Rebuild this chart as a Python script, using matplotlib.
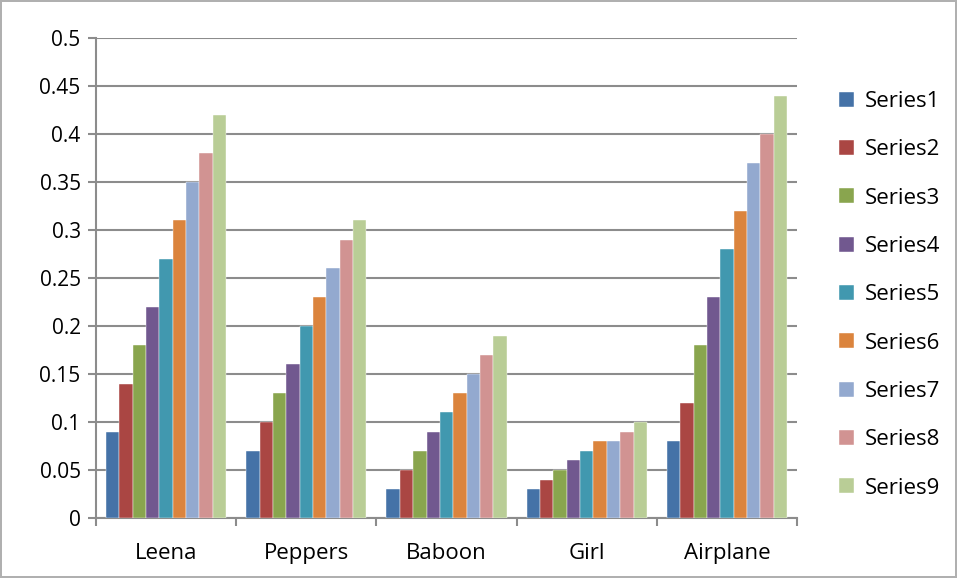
import matplotlib.pyplot as plt
import numpy as np

categories = ['Leena', 'Peppers', 'Baboon', 'Girl', 'Airplane']
series_names = ['Series%d' % i for i in range(1, 10)]
values = [
    [0.09, 0.07, 0.03, 0.03, 0.08],
    [0.14, 0.10, 0.05, 0.04, 0.12],
    [0.18, 0.13, 0.07, 0.05, 0.18],
    [0.22, 0.16, 0.09, 0.06, 0.23],
    [0.27, 0.20, 0.11, 0.07, 0.28],
    [0.31, 0.23, 0.13, 0.08, 0.32],
    [0.35, 0.26, 0.15, 0.08, 0.37],
    [0.38, 0.29, 0.17, 0.09, 0.40],
    [0.42, 0.31, 0.19, 0.10, 0.44],
]
colors = ['#4572A7', '#AA4643', '#89A54E', '#71588F', '#4198AF',
          '#DB843D', '#93A9CF', '#D19392', '#B9CD96']

plt.rcParams['font.family'] = ['Open Sans', 'DejaVu Sans']

fig = plt.figure(figsize=(9.57, 5.78), dpi=100)
fig.patch.set_edgecolor('#b0b0b0')
fig.patch.set_linewidth(1.5)
ax = fig.add_axes([0.1003, 0.1038, 0.7327, 0.8302])

x = np.arange(len(categories))
group_w = 0.857
bw = group_w / len(series_names)
for i, (name, vals) in enumerate(zip(series_names, values)):
    ax.bar(x - group_w / 2 + bw * (i + 0.5), vals, width=bw, color=colors[i],
           label=name, zorder=3, edgecolor='white', linewidth=0.3)

ax.set_xlim(-0.5, len(categories) - 0.5)
ax.set_ylim(0, 0.5)
ax.set_yticks(np.arange(0, 0.51, 0.05))
ax.set_yticklabels(['0', '0.05', '0.1', '0.15', '0.2', '0.25', '0.3',
                    '0.35', '0.4', '0.45', '0.5'])
ax.yaxis.grid(True, color='#8c8c8c', linewidth=1.5, zorder=0)
ax.set_axisbelow(True)

ax.set_xticks(x)
ax.set_xticklabels(categories)
ax.set_xticks(np.arange(-0.5, len(categories)), minor=True)
ax.tick_params(axis='x', which='major', length=0, labelsize=16, pad=18)
ax.tick_params(axis='x', which='minor', length=6, width=1.5, color='#8c8c8c')
ax.tick_params(axis='y', length=6, width=1.5, color='#8c8c8c', labelsize=15, pad=5)

for s in ['top', 'right']:
    ax.spines[s].set_visible(False)
for s in ['left', 'bottom']:
    ax.spines[s].set_color('#8c8c8c')
    ax.spines[s].set_linewidth(1.5)

ax.legend(loc='center left', bbox_to_anchor=(0.877, 0.49),
          bbox_transform=fig.transFigure, frameon=False,
          fontsize=16, handlelength=0.65, handleheight=0.65,
          labelspacing=1.23, handletextpad=0.5, borderaxespad=0,
          borderpad=0)

plt.savefig('out.png')
